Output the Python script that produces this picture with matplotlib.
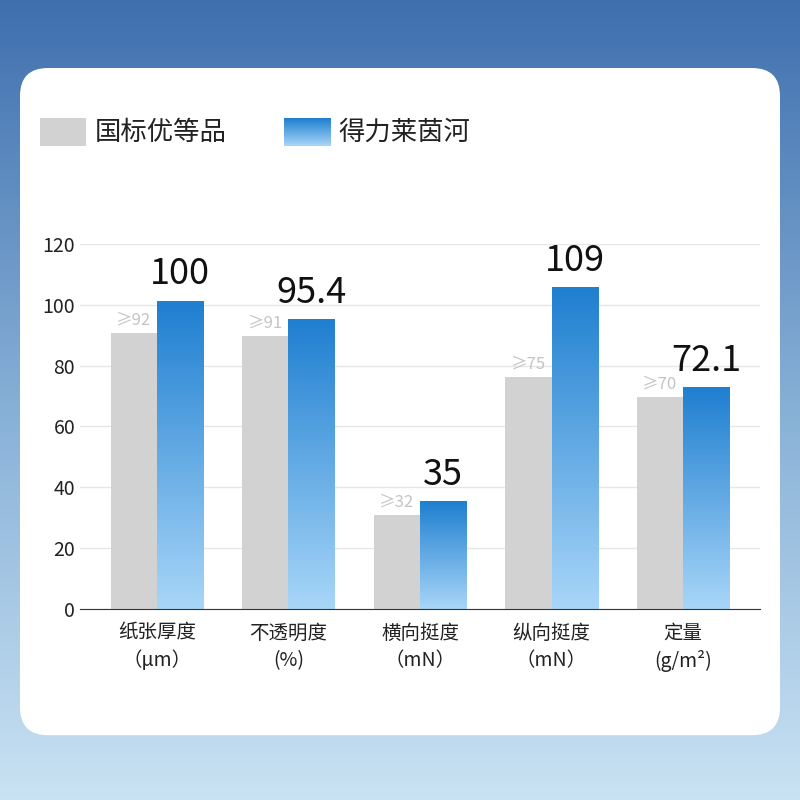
import matplotlib
matplotlib.use("Agg")
import matplotlib.pyplot as plt
import numpy as np
from matplotlib.patches import FancyBboxPatch, Rectangle
from matplotlib.colors import LinearSegmentedColormap

plt.rcParams['font.family'] = ['Noto Sans CJK SC', 'DejaVu Sans']

categories = ["纸张厚度\n（μm）", "不透明度\n(%)", "横向挺度\n（mN）", "纵向挺度\n（mN）", "定量\n(g/m²)"]
grey_vals = [90.8, 89.8, 30.9, 76.3, 69.7]
grey_labels = ["≥92", "≥91", "≥32", "≥75", "≥70"]
blue_vals = [101.3, 95.1, 35.2, 105.6, 72.7]
blue_labels = ["100", "95.4", "35", "109", "72.1"]
series_names = ["国标优等品", "得力莱茵河"]

fig = plt.figure(figsize=(8, 8), dpi=100)
# background gradient
bg = fig.add_axes([0, 0, 1, 1])
bg_cmap = LinearSegmentedColormap.from_list("bg", ["#3f6fae", "#86afd6", "#c9e2f3"])
bg.imshow(np.linspace(0, 1, 256).reshape(-1, 1), aspect='auto', cmap=bg_cmap, extent=[0, 1, 0, 1], origin='upper')
bg.set_xlim(0, 1); bg.set_ylim(0, 1); bg.axis('off')
card = FancyBboxPatch((0.025, 0.081), 0.95, 0.834, boxstyle="round,pad=0,rounding_size=0.035",
                      transform=bg.transAxes, facecolor='white', edgecolor='none')
bg.add_patch(card)

# legend
bg.add_patch(Rectangle((0.05, 0.818), 0.058, 0.035, facecolor='#d2d2d2', transform=bg.transAxes))
bg.text(0.118, 0.835, series_names[0], fontsize=19, va='center', ha='left', transform=bg.transAxes, color='#222222')
leg_cmap = LinearSegmentedColormap.from_list("b", ["#a8d6f8", "#1f7fd0"])
bg.imshow(np.linspace(1, 0, 50).reshape(-1, 1), cmap=leg_cmap, aspect='auto',
          extent=[0.355, 0.413, 0.818, 0.853], zorder=3)
bg.text(0.423, 0.835, series_names[1], fontsize=19, va='center', ha='left', transform=bg.transAxes, color='#222222')
bg.set_xlim(0, 1); bg.set_ylim(0, 1)

ax = fig.add_axes([0.10, 0.239, 0.85, 0.456])
x = np.arange(len(categories))
w = 0.35
ax.bar(x - w/2, grey_vals, w, color='#d2d2d2', zorder=2)
bars = ax.bar(x + w/2, blue_vals, w, color='none', zorder=2)
grad = np.linspace(1, 0, 256).reshape(-1, 1)
for b in bars:
    x0, h = b.get_x(), b.get_height()
    ax.imshow(grad, cmap=leg_cmap, aspect='auto', extent=[x0, x0 + w, 0, h], zorder=2)
for i in range(len(x)):
    ax.text(x[i] - w/2, grey_vals[i] + 1.5, grey_labels[i], ha='center', va='bottom', fontsize=12, color='#c4c4c4')
    ax.text(x[i] + w/2, blue_vals[i] + 3, blue_labels[i], ha='center', va='bottom', fontsize=26, color='#111111')
ax.set_xlim(-0.585, 4.585)
ax.set_ylim(0, 120)
ax.set_yticks(range(0, 121, 20))
ax.grid(axis='y', color='#e6e6e6', lw=1, zorder=0)
ax.set_xticks(x)
ax.set_xticklabels(categories, fontsize=14, linespacing=1.4)
ax.tick_params(axis='both', length=0, labelsize=14, colors='#222222')
ax.tick_params(axis='x', pad=10)
for s in ['top', 'right', 'left']:
    ax.spines[s].set_visible(False)
ax.spines['bottom'].set_color('#333333')
ax.set_facecolor('none')
fig.savefig("out.png", dpi=100)
